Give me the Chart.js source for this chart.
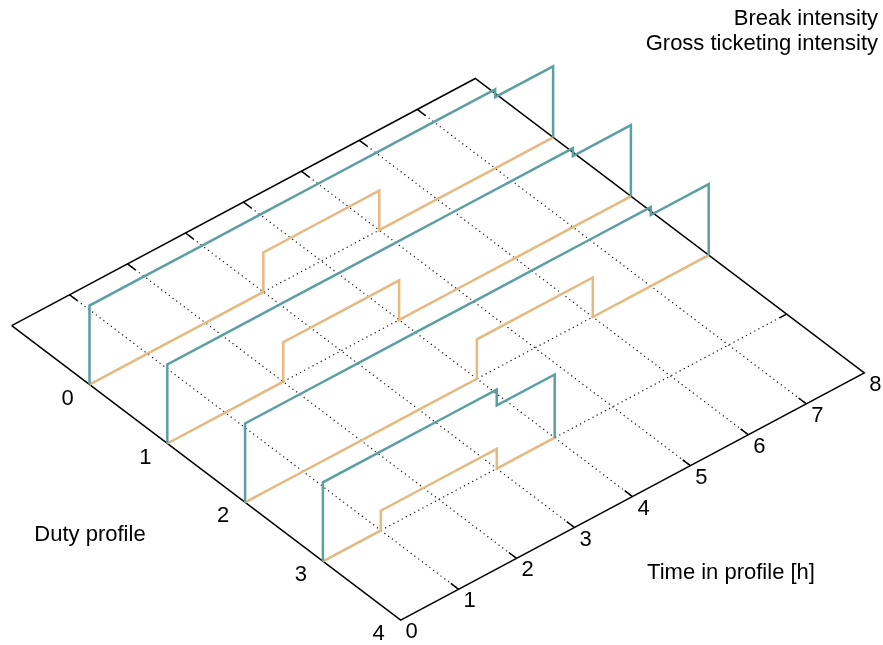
<!DOCTYPE html>
<html>
<head>
<meta charset="utf-8">
<script src="https://cdn.jsdelivr.net/npm/chart.js@4.4.0/dist/chart.umd.min.js"></script>
<style>
  html, body { margin: 0; padding: 0; background: #fff; }
  #wrap { width: 883px; height: 645px; position: relative; }
</style>
</head>
<body>
<div id="wrap"><canvas id="myChart"></canvas></div>
<script>
// Dữ liệu biểu đồ
const hours = [0, 1, 2, 3, 4, 5, 6, 7, 8];
const profiles = [0, 1, 2, 3, 4];
const profileLabels = ["0", "1", "2", "3", "4"];
const timeLabels = ["0", "1", "2", "3", "4", "5", "6", "7", "8"];
const seriesNames = ["Break intensity", "Gross ticketing intensity"];

// cường độ nghỉ theo từng giờ (mỗi profile)
const breakP0 = [0, 0, 0, 0.5, 0.5, 0, 0, 0];
const breakP1 = [0, 0, 0.5, 0.5, 0, 0, 0, 0];
const breakP2 = [0, 0, 0, 0, 0.5, 0.5, 0, 0];
const breakP3 = [0, 0.25, 0.25, 0];

// cường độ bán vé theo từng giờ
const ticketP0 = [1, 1, 1, 1, 1, 1, 1, 0.9];
const ticketP1 = [1, 1, 1, 1, 1, 1, 1, 0.9];
const ticketP2 = [1, 1, 1, 1, 1, 1, 1, 0.9];
const ticketP3 = [1, 1, 1, 0.8];

const breakSeries = [breakP0, breakP1, breakP2, breakP3];
const ticketSeries = [ticketP0, ticketP1, ticketP2, ticketP3];

// Góc nhìn (chiếu 3D -> 2D)
const view = {
  ox: 89.5, oy: 384.6,     // gốc t=0, profile=0
  tx: 57.95, ty: -30.9,    // mỗi giờ
  px: 77.8, py: 58.9,      // mỗi profile
  zy: -79                  // mỗi đơn vị cường độ
};
const pMin = -1, pMax = 4, tMin = 0, tMax = 8;

function project(t, p, z) {
  return {
    x: view.ox + view.tx * t + view.px * p,
    y: view.oy + view.ty * t + view.py * p + view.zy * z
  };
}

// Hàm tạo đường bậc thang
function stepLine(values, p) {
  let pts = [project(0, p, 0)];
  values.forEach((v, i) => {
    pts.push(project(hours[i], p, v));
    pts.push(project(hours[i + 1], p, v));
  });
  pts.push(project(values.length, p, 0));
  return pts;
}

function lineSet(pts, color, width, dash, order) {
  return {
    data: pts,
    showLine: true,
    borderColor: color,
    borderWidth: width,
    borderDash: dash || [],
    pointRadius: 0,
    fill: false,
    tension: 0,
    order: order,
    borderCapStyle: "butt",
    borderJoinStyle: "miter"
  };
}

var datasets = [];

// đường dữ liệu
for (let i = 0; i < breakSeries.length; i++) {
  datasets.push(lineSet(stepLine(ticketSeries[i], profiles[i]), "#5c9fa1", 2.5, null, 1));
  datasets.push(lineSet(stepLine(breakSeries[i], profiles[i]), "#e5b980", 2.5, null, 1));
}

// lưới chấm
hours.slice(1, -1).forEach((t) => {
  datasets.push(lineSet([project(t, pMin, 0), project(t, pMax, 0)], "#111", 1.2, [1.2, 3.5], 5));
});
profiles.slice(0, -1).forEach((p) => {
  datasets.push(lineSet([project(tMin, p, 0), project(tMax, p, 0)], "#111", 1.2, [1.2, 3.5], 5));
});

// khung đáy
datasets.push(lineSet([
  project(tMin, pMin, 0), project(tMax, pMin, 0), project(tMax, pMax, 0),
  project(tMin, pMax, 0), project(tMin, pMin, 0)
], "#000", 1.5, null, 4));

// vạch chia
hours.slice(1, -1).forEach((t) => {
  datasets.push(lineSet([project(t, pMin, 0), project(t, pMin + 0.1, 0)], "#000", 1.5, null, 4));
  datasets.push(lineSet([project(t, pMax, 0), project(t, pMax - 0.1, 0)], "#000", 1.5, null, 4));
});
profiles.slice(0, -1).forEach((p) => {
  datasets.push(lineSet([project(tMax, p, 0), project(tMax - 0.12, p, 0)], "#000", 1.5, null, 4));
});

// Plugin vẽ chữ
const FONT = '"Liberation Sans", Arial, sans-serif';
const textPlugin = {
  id: "texts",
  afterDraw(chart) {
    const ctx = chart.ctx;
    const xs = chart.scales.x, ys = chart.scales.y;
    const px = (pt) => ({ x: xs.getPixelForValue(pt.x), y: ys.getPixelForValue(pt.y) });
    ctx.save();
    ctx.fillStyle = "#000";
    ctx.font = "22px " + FONT;
    ctx.textAlign = "center";
    ctx.textBaseline = "middle";
    profiles.forEach((p, i) => {
      const q = px(project(tMin, p, 0));
      ctx.fillText(profileLabels[i], q.x - 22, q.y + 14);
    });
    hours.forEach((t, i) => {
      const q = px(project(t, pMax, 0));
      ctx.fillText(timeLabels[i], q.x + 11, q.y + 12);
    });
    ctx.fillText("Duty profile", 90, 535);
    ctx.fillText("Time in profile [h]", 731, 573);
    ctx.textAlign = "right";
    ctx.fillText(seriesNames[0], 878, 19);
    ctx.fillText(seriesNames[1], 878, 44);
    ctx.restore();
  }
};

new Chart(document.getElementById("myChart").getContext("2d"), {
  type: "scatter",
  data: { datasets: datasets },
  options: {
    responsive: true,
    maintainAspectRatio: false,
    animation: false,
    layout: { padding: 0 },
    plugins: { legend: { display: false }, tooltip: { enabled: false } },
    scales: {
      x: { type: "linear", min: 0, max: 883, display: false },
      y: { type: "linear", min: 0, max: 645, reverse: true, display: false }
    }
  },
  plugins: [textPlugin]
});
</script>
</body>
</html>
